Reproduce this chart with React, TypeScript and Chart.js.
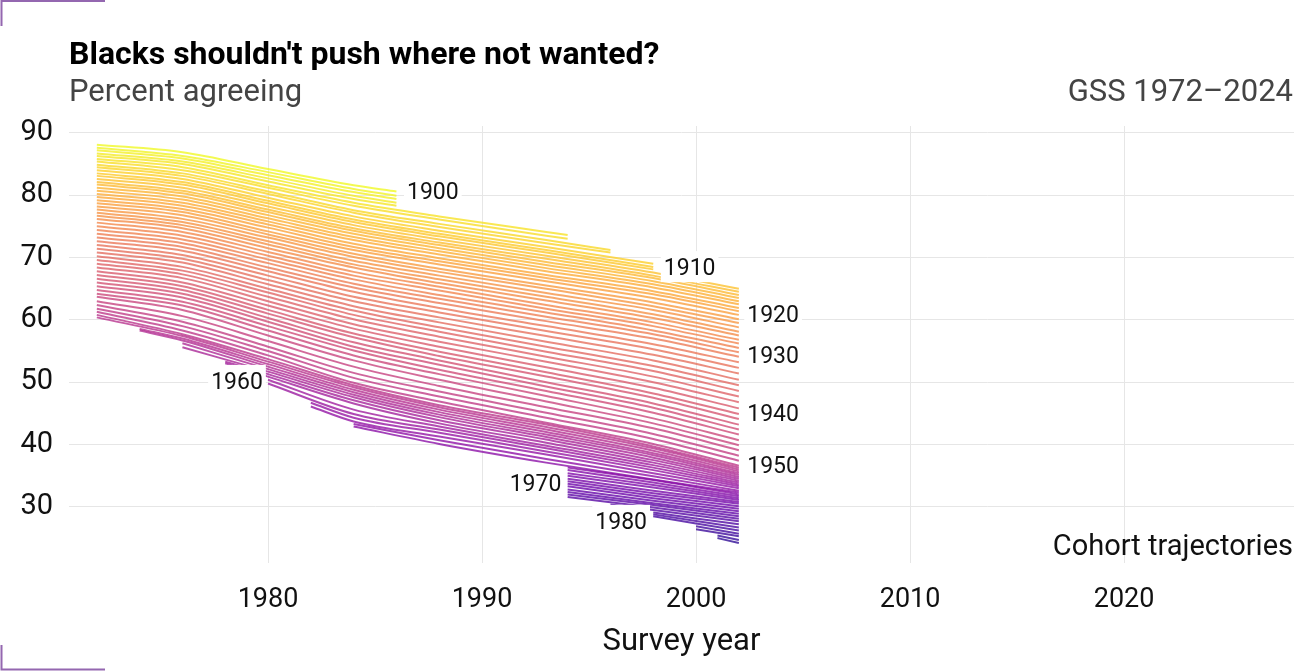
import { useEffect, useRef } from 'react';
import { Chart, registerables } from 'chart.js';

Chart.register(...registerables);

// survey years used as knots between a cohort's first and last year
const surveyKnots = [1972, 1976, 1980, 1984, 1988, 1993, 1998, 2002];

const cohorts = [
  1900, 1901, 1902, 1903, 1904, 1905, 1906, 1907, 1908, 1909,
  1910, 1911, 1912, 1913, 1914, 1915, 1916, 1917, 1918, 1919,
  1920, 1921, 1922, 1923, 1924, 1925, 1926, 1927, 1928, 1929,
  1930, 1931, 1932, 1933, 1934, 1935, 1936, 1937, 1938, 1939,
  1940, 1941, 1942, 1943, 1944, 1945, 1946, 1947, 1948, 1949,
  1950, 1951, 1952, 1953, 1954, 1955, 1956, 1957, 1958, 1959,
  1960, 1961, 1962, 1963, 1964, 1965, 1966, 1967, 1968, 1969,
  1970, 1971, 1972, 1973, 1974, 1975, 1976, 1977, 1978, 1979,
  1980, 1981, 1982, 1983, 1984,
];

const firstYear = [
  1972, 1972, 1972, 1972, 1972, 1972, 1972, 1972, 1972, 1972,
  1972, 1972, 1972, 1972, 1972, 1972, 1972, 1972, 1972, 1972,
  1972, 1972, 1972, 1972, 1972, 1972, 1972, 1972, 1972, 1972,
  1972, 1972, 1972, 1972, 1972, 1972, 1972, 1972, 1972, 1972,
  1972, 1972, 1972, 1972, 1972, 1972, 1972, 1972, 1972, 1972,
  1972, 1972, 1972, 1974, 1974, 1976, 1976, 1978, 1978, 1980,
  1980, 1982, 1982, 1984, 1984, 1994, 1994, 1994, 1994, 1994,
  1994, 1994, 1994, 1994, 1994, 1994, 1994, 1996, 1998, 1998,
  1998, 2000, 2000, 2001, 2001,
];

const lastYear = [
  1986, 1986, 1986, 1986, 1986, 1994, 1994, 1996, 1996, 1998,
  1998, 1998, 2002, 2002, 2002, 2002, 2002, 2002, 2002, 2002,
  2002, 2002, 2002, 2002, 2002, 2002, 2002, 2002, 2002, 2002,
  2002, 2002, 2002, 2002, 2002, 2002, 2002, 2002, 2002, 2002,
  2002, 2002, 2002, 2002, 2002, 2002, 2002, 2002, 2002, 2002,
  2002, 2002, 2002, 2002, 2002, 2002, 2002, 2002, 2002, 2002,
  2002, 2002, 2002, 2002, 2002, 2002, 2002, 2002, 2002, 2002,
  2002, 2002, 2002, 2002, 2002, 2002, 2002, 2002, 2002, 2002,
  2002, 2002, 2002, 2002, 2002,
];

// percent agreeing: first year, knots in between, last year
const agreeing = [
  [88.1, 86.9, 84.2, 81.6, 80.6],
  [87.6, 86.3, 83.7, 81.0, 79.9],
  [87.2, 85.9, 83.2, 80.5, 79.4],
  [86.7, 85.4, 82.7, 79.9, 78.8],
  [86.3, 85.0, 82.2, 79.4, 78.3],
  [85.8, 84.5, 81.6, 78.8, 76.6, 74.1, 73.6],
  [85.4, 84.0, 81.2, 78.3, 76.1, 73.5, 73.0],
  [84.9, 83.5, 80.6, 77.6, 75.4, 72.8, 71.2],
  [84.5, 83.1, 80.2, 77.2, 74.9, 72.3, 70.8],
  [84.0, 82.6, 79.6, 76.6, 74.3, 71.7, 69.0],
  [83.5, 82.1, 79.1, 76.1, 73.8, 71.2, 68.5],
  [83.1, 81.7, 78.7, 75.7, 73.4, 70.8, 68.1],
  [82.6, 81.2, 78.2, 75.2, 72.9, 70.3, 67.6, 65.0],
  [82.1, 80.7, 77.7, 74.7, 72.4, 69.8, 67.1, 64.5],
  [81.7, 80.3, 77.3, 74.3, 72.0, 69.3, 66.7, 64.0],
  [81.2, 79.8, 76.8, 73.8, 71.5, 68.8, 66.2, 63.5],
  [80.7, 79.3, 76.3, 73.3, 71.0, 68.3, 65.7, 63.0],
  [80.2, 78.8, 75.8, 72.8, 70.5, 67.8, 65.2, 62.5],
  [79.7, 78.3, 75.3, 72.2, 69.9, 67.2, 64.6, 61.9],
  [79.2, 77.8, 74.8, 71.7, 69.4, 66.7, 64.1, 61.4],
  [78.7, 77.3, 74.2, 71.2, 68.9, 66.2, 63.5, 60.8],
  [78.2, 76.8, 73.7, 70.6, 68.2, 65.5, 62.8, 60.1],
  [77.7, 76.2, 73.2, 70.1, 67.7, 65.0, 62.2, 59.5],
  [77.2, 75.7, 72.6, 69.5, 67.1, 64.3, 61.6, 58.8],
  [76.7, 75.2, 72.1, 68.9, 66.5, 63.7, 60.9, 58.1],
  [76.2, 74.7, 71.5, 68.4, 65.9, 63.1, 60.3, 57.5],
  [75.6, 74.1, 70.9, 67.7, 65.3, 62.4, 59.6, 56.8],
  [75.0, 73.5, 70.3, 67.1, 64.7, 61.8, 59.0, 56.2],
  [74.4, 72.9, 69.7, 66.5, 64.0, 61.2, 58.3, 55.5],
  [73.8, 72.3, 69.1, 65.8, 63.4, 60.5, 57.7, 54.8],
  [73.2, 71.7, 68.4, 65.2, 62.7, 59.8, 57.0, 54.1],
  [72.6, 71.1, 67.8, 64.5, 61.9, 59.0, 56.1, 53.2],
  [72.0, 70.4, 67.1, 63.7, 61.2, 58.2, 55.3, 52.3],
  [71.4, 69.8, 66.4, 63.0, 60.4, 57.4, 54.4, 51.4],
  [70.8, 69.2, 65.7, 62.2, 59.6, 56.5, 53.5, 50.4],
  [70.2, 68.5, 65.0, 61.5, 58.8, 55.7, 52.6, 49.5],
  [69.6, 67.9, 64.4, 60.8, 58.1, 54.9, 51.8, 48.6],
  [69.0, 67.3, 63.7, 60.1, 57.3, 54.1, 50.9, 47.7],
  [68.4, 66.7, 63.0, 59.3, 56.5, 53.3, 50.0, 46.8],
  [67.8, 66.0, 62.3, 58.6, 55.7, 52.4, 49.1, 45.8],
  [67.2, 65.4, 61.6, 57.8, 54.9, 51.6, 48.2, 44.9],
  [66.6, 64.8, 61.0, 57.2, 54.2, 50.9, 47.5, 44.1],
  [66.0, 64.2, 60.3, 56.4, 53.5, 50.0, 46.6, 43.2],
  [65.4, 63.6, 59.7, 55.7, 52.8, 49.3, 45.9, 42.4],
  [64.8, 62.9, 59.0, 55.1, 52.0, 48.6, 45.1, 41.6],
  [64.2, 62.3, 58.3, 54.3, 51.3, 47.8, 44.2, 40.7],
  [63.7, 61.6, 57.5, 53.5, 50.4, 46.9, 43.4, 39.9],
  [63.0, 60.6, 56.6, 52.5, 49.4, 46.0, 42.6, 39.1],
  [62.4, 59.7, 55.7, 51.5, 48.5, 45.1, 41.7, 38.2],
  [61.8, 59.0, 55.0, 50.7, 47.7, 44.3, 40.9, 37.4],
  [61.3, 58.3, 54.3, 49.9, 46.9, 43.5, 40.1, 36.6],
  [60.8, 57.7, 53.7, 49.5, 46.3, 43.2, 39.7, 36.3],
  [60.4, 57.4, 53.3, 49.2, 46.0, 42.8, 39.4, 36.0],
  [58.55, 57.0, 52.9, 48.8, 45.6, 42.4, 39.0, 35.7],
  [58.3, 56.7, 52.5, 48.4, 45.2, 42.0, 38.6, 35.4],
  [56.25, 52.1, 48.0, 44.8, 41.6, 38.3, 35.1],
  [55.6, 51.7, 47.6, 44.4, 41.2, 37.9, 34.8],
  [53.3, 51.3, 47.1, 43.9, 40.8, 37.5, 34.5],
  [53.05, 50.9, 46.6, 43.4, 40.3, 37.1, 34.2],
  [50.4, 45.6, 42.9, 39.8, 36.7, 33.9],
  [49.8, 44.9, 42.4, 39.4, 36.3, 33.6],
  [46.7, 44.3, 41.9, 38.9, 35.9, 33.3],
  [46.1, 43.7, 41.3, 38.4, 35.4, 33.0],
  [43.3, 40.7, 37.7, 34.9, 32.6],
  [42.9, 40.1, 37.1, 34.4, 32.3],
  [36.3, 34.3, 32.0],
  [35.9, 33.9, 31.7],
  [35.4, 33.5, 31.4],
  [35.0, 33.1, 31.1],
  [34.5, 32.6, 30.8],
  [34.1, 32.2, 30.5],
  [33.7, 31.8, 30.1],
  [33.3, 31.4, 29.7],
  [32.8, 31.0, 29.3],
  [32.4, 30.6, 28.9],
  [32.0, 30.3, 28.5],
  [31.6, 29.9, 28.1],
  [30.4, 29.5, 27.7],
  [29.1, 27.2],
  [28.8, 26.7],
  [28.5, 26.2],
  [26.9, 25.7],
  [26.4, 25.3],
  [25.4, 24.7],
  [25.0, 24.2],
];

const labelText = ['1900', '1910', '1920', '1930', '1940', '1950', '1960', '1970', '1980'];
const labelYear = [1987.7, 1999.7, 2003.6, 2003.6, 2003.6, 2003.6, 1978.55, 1992.5, 1996.5];
const labelValue = [80.4, 68.3, 60.8, 54.1, 44.9, 36.6, 50.05, 33.7, 27.6];

const xTicks = [1980, 1990, 2000, 2010, 2020];
const yTicks = [30, 40, 50, 60, 70, 80, 90];

const PLASMA = [
  '#0d0887', '#41049d', '#6a00a8', '#8f0da4', '#b12a90', '#cc4778',
  '#e16462', '#f2844b', '#fca636', '#fcce25', '#f0f921',
];

function plasma(t: number, alpha = 0.78) {
  const pos = Math.max(0, Math.min(1, t)) * (PLASMA.length - 1);
  const i = Math.min(Math.floor(pos), PLASMA.length - 2);
  const f = pos - i;
  const a = PLASMA[i], b = PLASMA[i + 1];
  const ch = (hex: string, k: number) => parseInt(hex.slice(1 + k * 2, 3 + k * 2), 16);
  const mix = (k: number) => Math.round(ch(a, k) + (ch(b, k) - ch(a, k)) * f);
  return `rgba(${mix(0)}, ${mix(1)}, ${mix(2)}, ${alpha})`;
}

function yearsFor(i: number) {
  const s = firstYear[i];
  const e = lastYear[i];
  return [s, ...surveyKnots.filter((k) => k > s && k < e), e];
}

const FONT = 'Roboto, "Noto Sans", sans-serif';

const decorPlugin = {
  id: 'decor',
  afterDatasetsDraw(chart: Chart) {
    const { ctx } = chart;
    const x = chart.scales.x;
    const y = chart.scales.y;
    ctx.save();
    ctx.font = `23px ${FONT}`;
    ctx.textAlign = 'center';
    ctx.textBaseline = 'middle';
    labelText.forEach((t, i) => {
      const px = x.getPixelForValue(labelYear[i]);
      const py = y.getPixelForValue(labelValue[i]);
      const w = ctx.measureText(t).width + 6;
      ctx.fillStyle = '#ffffff';
      ctx.fillRect(px - w / 2, py - 17, w, 31);
      ctx.fillStyle = '#111111';
      ctx.fillText(t, px, py + 1);
    });
    ctx.restore();
  },
  afterDraw(chart: Chart) {
    const { ctx, width, height } = chart;
    ctx.save();
    ctx.textBaseline = 'alphabetic';

    ctx.fillStyle = '#000000';
    ctx.font = `bold 32px ${FONT}`;
    ctx.textAlign = 'left';
    ctx.fillText("Blacks shouldn't push where not wanted?", 69, 64);

    ctx.fillStyle = '#444444';
    ctx.font = `31px ${FONT}`;
    ctx.fillText('Percent agreeing', 69, 101);
    ctx.textAlign = 'right';
    ctx.fillText('GSS 1972\u20132024', width - 1, 101);

    ctx.fillStyle = '#111111';
    ctx.font = `29px ${FONT}`;
    ctx.fillText('Cohort trajectories', width - 1, 555);
    ctx.textAlign = 'center';
    ctx.font = `31px ${FONT}`;
    ctx.fillText('Survey year', (chart.chartArea.left + chart.chartArea.right) / 2, 650);

    // corner marks
    ctx.strokeStyle = '#9467b0';
    ctx.lineWidth = 2;
    ctx.beginPath();
    ctx.moveTo(1.5, 26);
    ctx.lineTo(1.5, 1);
    ctx.lineTo(105, 1);
    ctx.moveTo(1.5, height - 26);
    ctx.lineTo(1.5, height - 1.5);
    ctx.lineTo(105, height - 1.5);
    ctx.stroke();
    ctx.restore();
  },
};

export default function App() {
  const canvasRef = useRef<HTMLCanvasElement>(null);
  const chartRef = useRef<Chart | null>(null);

  useEffect(() => {
    document.body.style.margin = '0';
    if (!canvasRef.current) return;
    if (chartRef.current) chartRef.current.destroy();

    const datasets = cohorts.map((c, i) => {
      const years = yearsFor(i);
      return {
        label: String(c),
        data: years.map((yr, j) => ({ x: yr, y: agreeing[i][j] })),
        borderColor: plasma(1 - ((c - 1900) / 84) * 0.94),
        borderWidth: 2,
        pointRadius: 0,
        fill: false,
        cubicInterpolationMode: 'monotone' as const,
      };
    });

    chartRef.current = new Chart(canvasRef.current, {
      type: 'line',
      data: { datasets },
      plugins: [decorPlugin],
      options: {
        animation: false,
        responsive: true,
        maintainAspectRatio: false,
        events: [],
        layout: { padding: { top: 126, left: 0, right: 0, bottom: 0 } },
        plugins: {
          legend: { display: false },
          tooltip: { enabled: false },
        },
        scales: {
          x: {
            type: 'linear',
            min: 1970.7,
            max: 2027.94,
            afterBuildTicks: (scale) => {
              scale.ticks = xTicks.map((v) => ({ value: v }));
            },
            afterFit: (scale) => {
              scale.height = 108;
            },
            grid: { color: '#e6e6e6', lineWidth: 1, drawTicks: false },
            border: { display: false },
            ticks: {
              color: '#111111',
              font: { family: FONT, size: 27 },
              padding: 21,
              maxRotation: 0,
              callback: (v) => String(v),
            },
          },
          y: {
            type: 'linear',
            min: 21.0,
            max: 91.1,
            afterBuildTicks: (scale) => {
              scale.ticks = yTicks.map((v) => ({ value: v }));
            },
            afterFit: (scale) => {
              scale.width = 69;
            },
            grid: { color: '#e6e6e6', lineWidth: 1, drawTicks: false },
            border: { display: false },
            ticks: {
              color: '#111111',
              font: { family: FONT, size: 29 },
              padding: 16,
              callback: (v) => String(v),
            },
          },
        },
      },
    });

    return () => {
      if (chartRef.current) {
        chartRef.current.destroy();
        chartRef.current = null;
      }
    };
  }, []);

  return (
    <div style={{ width: 1294, height: 671, position: 'relative' }}>
      <canvas ref={canvasRef} />
    </div>
  );
}
